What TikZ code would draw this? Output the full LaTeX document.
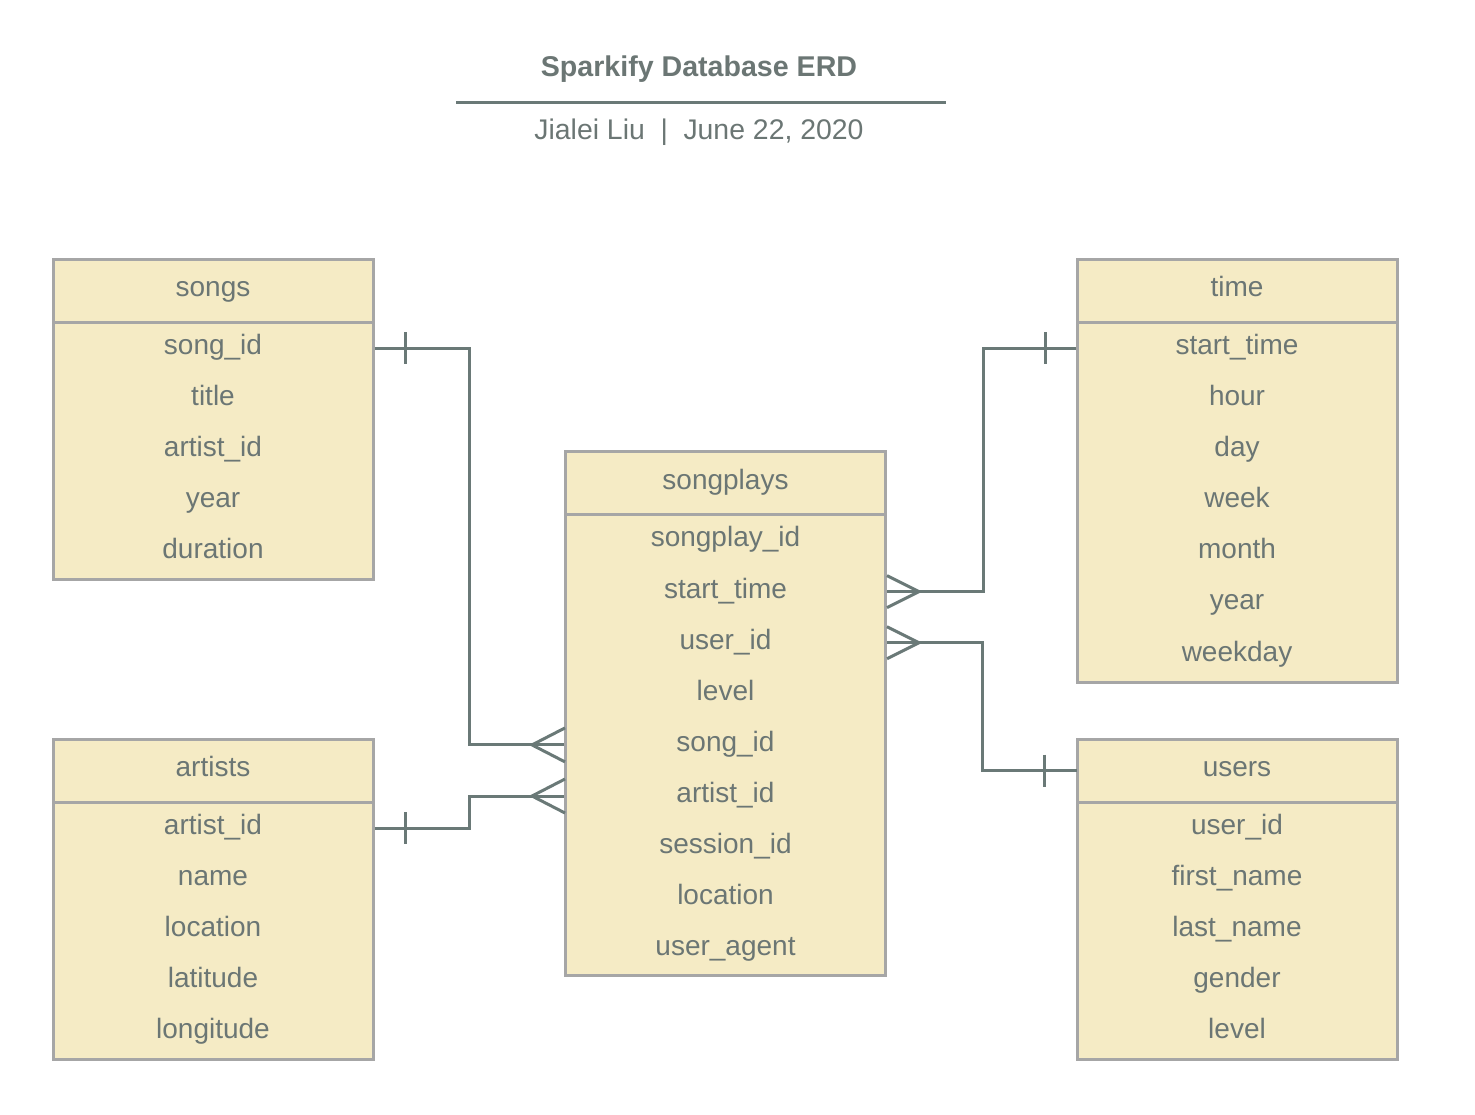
\documentclass[tikz,border=0pt]{standalone}
\usepackage{fontspec}
\setmainfont{Liberation Sans}
\usepackage{xcolor}
\usepackage{tikz}
\usetikzlibrary{arrows.meta,positioning,calc}
\definecolor{erdFill}{HTML}{F5EBC5}
\definecolor{erdEdge}{HTML}{A6A6A6}
\definecolor{erdInk}{HTML}{6B7674}
\definecolor{erdLine}{HTML}{6A7977}

\begin{document}
\begin{tikzpicture}[
  x=.5pt,y=-.5pt,
  head/.style={draw=erdEdge,line width=1.5pt,fill=erdFill,minimum width=160pt,
    minimum height=31.5pt,inner sep=0pt,outer sep=0pt,font=\fontsize{14}{16}\selectfont,
    text=erdInk,text height=.82em,text depth=.18em},
  row/.style={fill=erdFill,minimum width=158.5pt,minimum height=26pt,inner sep=0pt,
    outer sep=0pt,font=\fontsize{14}{16}\selectfont,text=erdInk,text height=.82em,text depth=.18em},
  frame/.style={draw=erdEdge,line width=1.5pt},
  rel/.style={draw=erdLine,line width=1.5pt}
]
  \useasboundingbox (0,0) rectangle (1475,1114);
  % title
  \node[font=\fontsize{14.3}{16}\selectfont\bfseries,text=erdInk] (title) at (699,69) {Sparkify Database ERD};
  \draw[erdLine,line width=1.5pt] (456,102) -- (946,102);
  \node[font=\fontsize{14.2}{16}\selectfont,text=erdInk] (subtitle) at (699,132)
    {Jialei Liu\hspace{.55em}|\hspace{.55em}June 22, 2020};

  % songs
  \foreach \t [count=\i] in {song\_id,title,artist\_id,year,duration}
    \node[row] (songs-\i) at (213,{348+51*(\i-1)}) {\t};
  \node[head] (songs) at (213,290.5) {songs};
  \draw[frame] (songs.south west) rectangle (373,579);

  % artists
  \foreach \t [count=\i] in {artist\_id,name,location,latitude,longitude}
    \node[row] (artists-\i) at (213,{828+51*(\i-1)}) {\t};
  \node[head] (artists) at (213,770.5) {artists};
  \draw[frame] (artists.south west) rectangle (373,1059);

  % songplays
  \foreach \t [count=\i] in {songplay\_id,start\_time,user\_id,level,song\_id,artist\_id,session\_id,location,user\_agent}
    \node[row] (sp-\i) at (725.5,{540.5+51.1*(\i-1)}) {\t};
  \node[head] (sp) at (725.5,483) {songplays};
  \draw[frame] (sp.south west) rectangle (885,975);

  % time
  \foreach \t [count=\i] in {start\_time,hour,day,week,month,year,weekday}
    \node[row] (time-\i) at (1237,{348+51.1*(\i-1)}) {\t};
  \node[head] (time) at (1237,290.5) {time};
  \draw[frame] (time.south west) rectangle (1397,682);

  % users
  \foreach \t [count=\i] in {user\_id,first\_name,last\_name,gender,level}
    \node[row] (users-\i) at (1237,{828+51*(\i-1)}) {\t};
  \node[head] (users) at (1237,770.5) {users};
  \draw[frame] (users.south west) rectangle (1397,1059);

  % songs -- songplays
  \draw[rel] ([xshift=1.5pt]songs-1.east) -- ++(95,0) |- ([xshift=-1.5pt]sp-5.west);
  \draw[rel] (songs-1.east) ++(34,-16) -- ++(0,32);
  \draw[rel] ([xshift=-1pt]sp-5.west) ++(0,-17) -- ++(-33,17) -- ++(33,17);

  % artists -- songplays
  \draw[rel] ([xshift=1.5pt]artists-1.east) -- ++(95,0) |- ([xshift=-1.5pt]sp-6.west);
  \draw[rel] (artists-1.east) ++(34,-16) -- ++(0,32);
  \draw[rel] ([xshift=-1pt]sp-6.west) ++(0,-17) -- ++(-33,17) -- ++(33,17);

  % time -- songplays
  \draw[rel] ([xshift=-1.5pt]time-1.west) -- ++(-92,0) |- ([xshift=1.5pt]sp-2.east);
  \draw[rel] (time-1.west) ++(-33,-16) -- ++(0,32);
  \draw[rel] ([xshift=1.5pt]sp-2.east) ++(0,-16) -- ++(32,16) -- ++(-32,16);

  % users -- songplays
  \draw[rel] (users.west) -- ++(-95,0) |- ([xshift=1.5pt]sp-3.east);
  \draw[rel] (users.west) ++(-33,-16) -- ++(0,32);
  \draw[rel] ([xshift=1.5pt]sp-3.east) ++(0,-16) -- ++(32,16) -- ++(-32,16);
\end{tikzpicture}
\end{document}
